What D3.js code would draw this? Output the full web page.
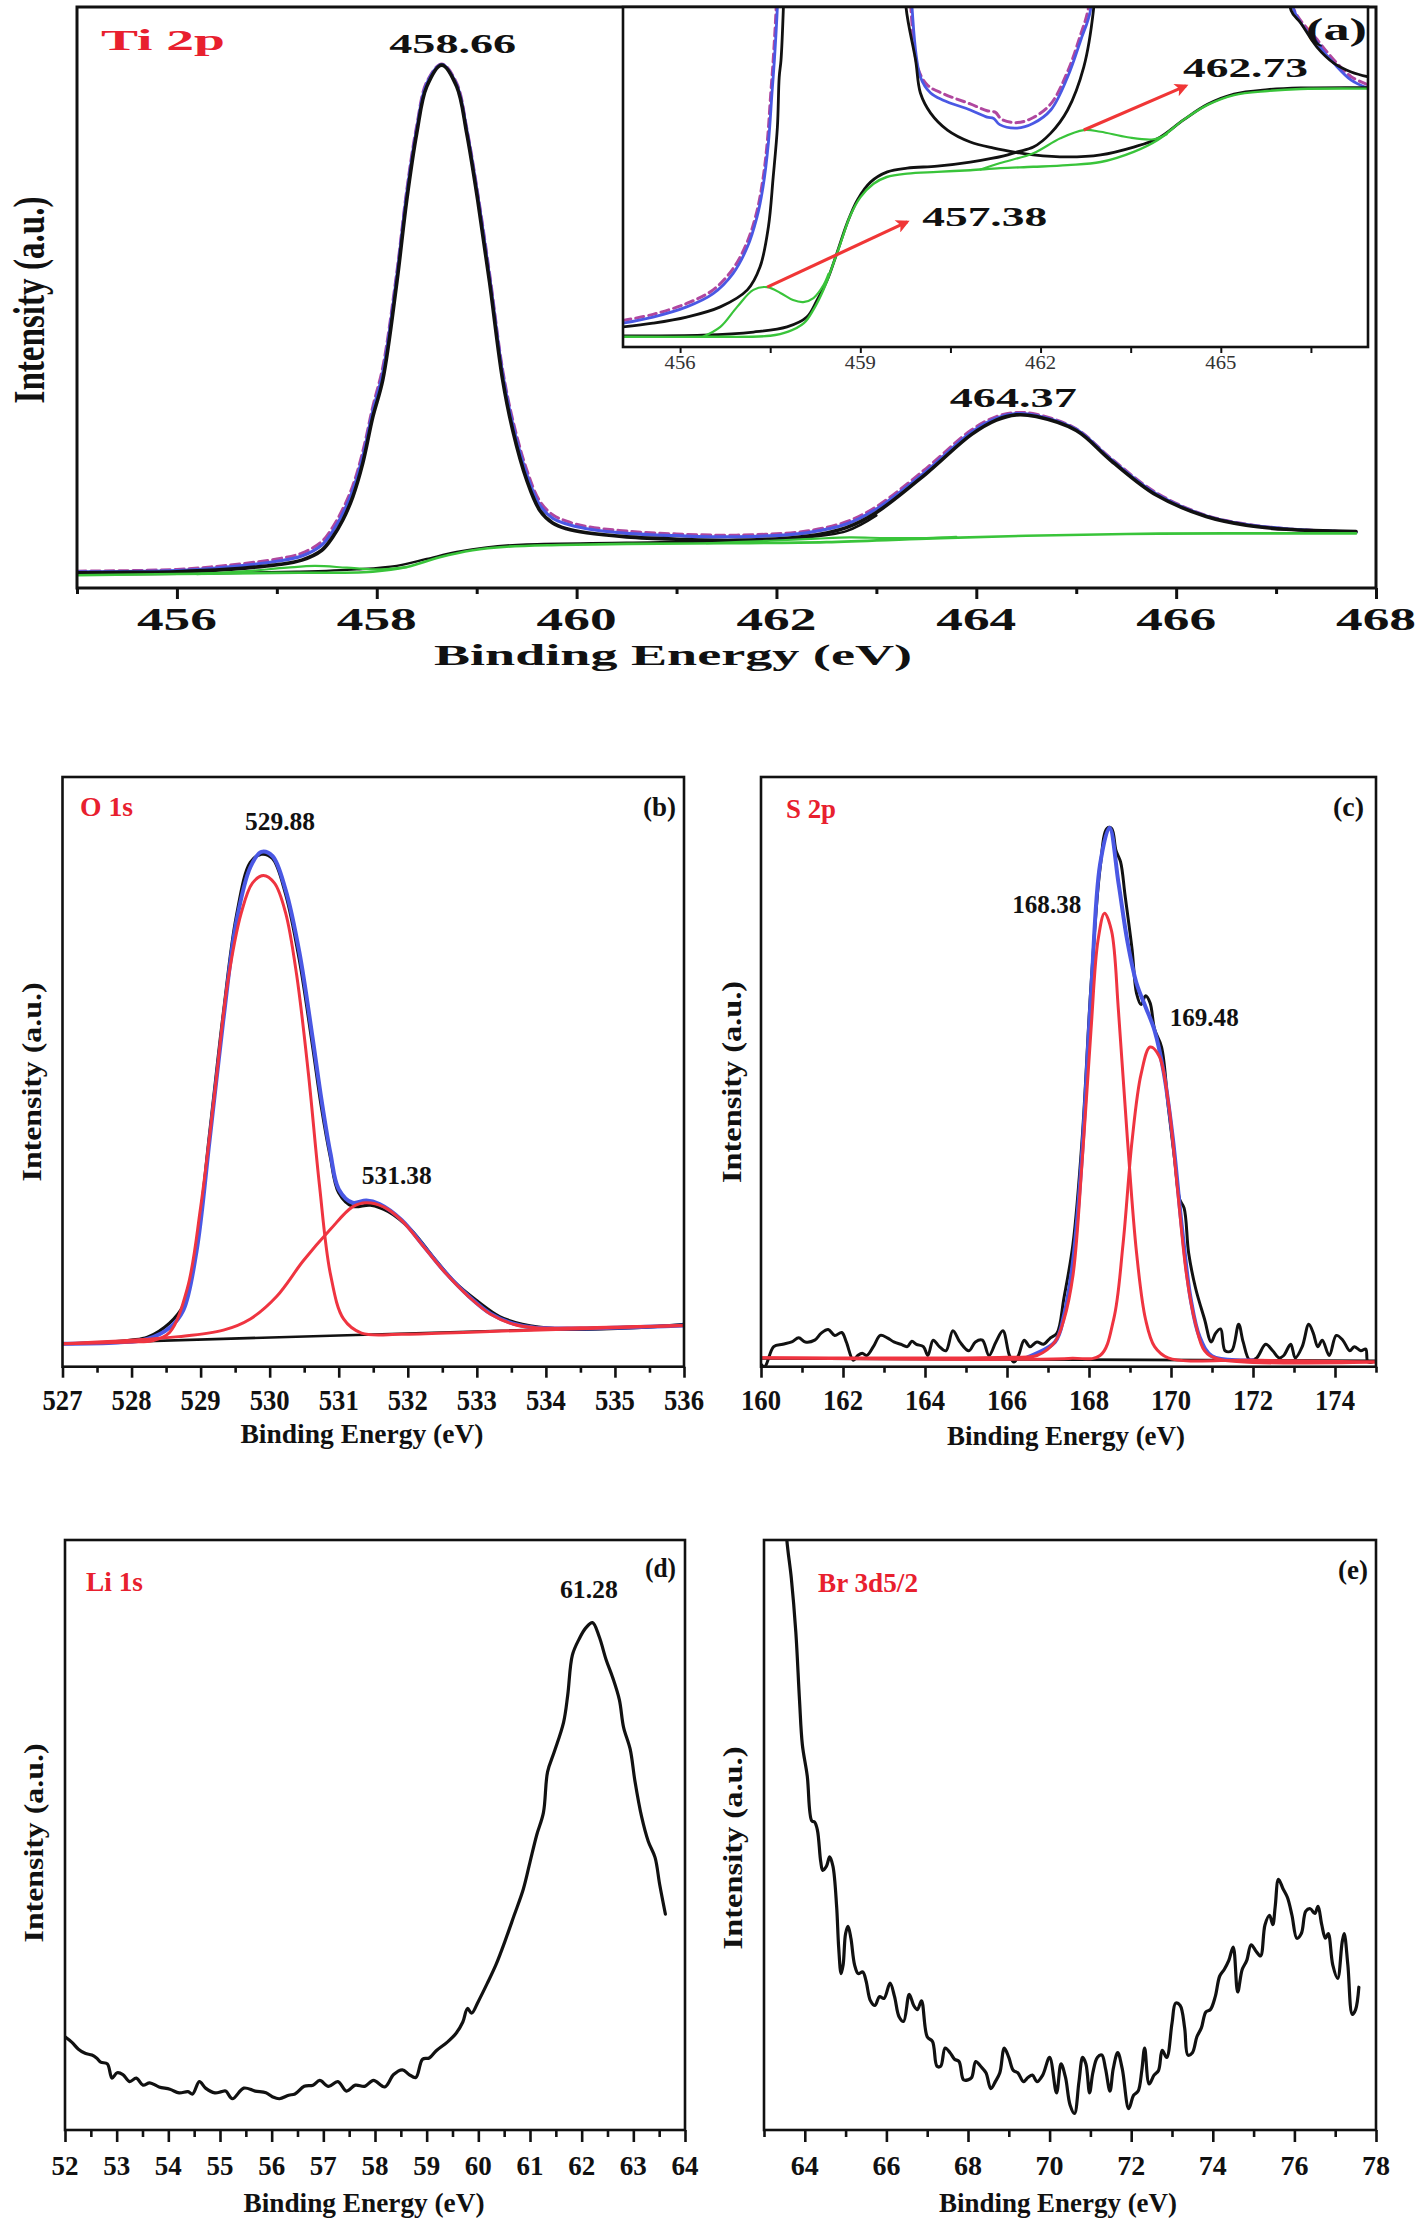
<!DOCTYPE html>
<html><head><meta charset="utf-8">
<script src="https://cdn.jsdelivr.net/npm/d3@7/dist/d3.min.js"></script>
<style>html,body{margin:0;padding:0;background:#fff}svg{display:block}</style>
</head><body>
<svg id="fig" width="1418" height="2227"></svg>
<script>
// ---------------- DATA (binding energy eV, relative intensity 0-100) ----------------
// Panel (a) Ti 2p main
const tiRaw = [[455,2.9],[456,3.2],[456.5,3.9],[457,5.0],[457.25,6.0],[457.45,8.0],[457.56,10.5],[457.66,13.6],[457.76,17.6],[457.86,23.5],[457.96,31.2],[458.06,38],[458.2,54.3],[458.3,68.5],[458.4,79.6],[458.5,87.1],[458.65,90.2],[458.8,86.9],[458.9,79.2],[459.01,68],[459.13,54],[459.26,37.5],[459.36,29],[459.5,20.4],[459.63,15],[459.76,12.6],[459.9,11.5],[460.1,10.6],[460.5,9.8],[461,9.3],[461.6,9.1],[462.3,9.8],[462.7,11.4],[463,14],[463.5,20.6],[463.95,27.2],[464.2,29.5],[464.4,30.2],[464.6,29.9],[465,27.4],[465.35,22.3],[465.8,16.4],[466.3,12.5],[466.7,11.0],[467.1,10.2],[467.8,9.6]];
const tiFit = [[455,2.8],[456,3.0],[456.5,3.6],[457,4.6],[457.25,5.5],[457.45,7.4],[457.56,9.8],[457.66,12.8],[457.76,16.8],[457.86,22.6],[457.96,30.4],[458.06,37],[458.2,53.5],[458.3,67.8],[458.4,79],[458.5,86.8],[458.65,90.1],[458.8,86.6],[458.9,78.8],[459.01,67.5],[459.13,53.3],[459.26,36.8],[459.36,28.2],[459.5,19.6],[459.63,14.3],[459.76,12.0],[459.9,11.0],[460.1,10.2],[460.5,9.4],[461,9.0],[461.6,8.8],[462.3,9.5],[462.7,11.0],[463,13.6],[463.5,20.1],[463.95,26.8],[464.2,29.2],[464.4,30.0],[464.6,29.7],[465,27.3],[465.35,22.1],[465.8,16.2],[466.3,12.4],[466.7,10.9],[467.1,10.2],[467.8,9.6]];
const tiEnvelope = [[455,2.6],[455.5,2.7],[456,2.8],[456.5,3.2],[457,4.0],[457.25,4.8],[457.45,6.5],[457.56,8.8],[457.66,11.7],[457.76,15.7],[457.86,21.5],[457.96,29.4],[458.06,35.8],[458.2,52.5],[458.3,66.8],[458.4,78.3],[458.5,86.3],[458.65,90.0],[458.8,86.3],[458.9,78.3],[459.01,66.8],[459.13,52.5],[459.26,35.8],[459.36,27.2],[459.5,18.6],[459.63,13.4],[459.76,11.2],[459.9,10.2],[460.1,9.5],[460.5,8.8],[461,8.4],[461.6,8.2],[462.3,8.9],[462.7,10.4],[463,13.0],[463.5,19.7],[463.95,26.4],[464.2,28.9],[464.4,29.8],[464.6,29.5],[465,27.1],[465.35,21.9],[465.8,16.0],[466.3,12.3],[466.7,10.8],[467.1,10.1],[467.8,9.7]];
const tiComp2Low = [[455,2.3],[456.3,2.5],[457.2,2.8],[457.8,3.2],[458.2,3.8],[458.5,5.0],[458.8,6.2],[459.1,7.0],[459.5,7.5],[460.5,7.8],[461.5,8.1],[462.2,8.6],[462.7,9.8],[463,12.5]];
const tiBackground = [[455,2.2],[456,2.4],[457,2.6],[457.96,2.8],[458.3,3.6],[458.63,5.3],[458.96,6.5],[459.3,7.1],[459.83,7.4],[460.5,7.6],[461.5,7.7],[462.5,7.9],[463.5,8.5],[464.5,9.0],[465.5,9.3],[466.5,9.4],[467.8,9.4]];
const tiTi3a = [[456.2,2.4],[456.7,2.9],[457.1,3.5],[457.38,3.8],[457.7,3.5],[458,3.2],[458.3,3.6]];
const tiTi3b = [[461.3,7.7],[461.9,8.1],[462.4,8.5],[462.73,8.7],[463.1,8.6],[463.5,8.6],[463.8,8.8]];
const tiTicks = [455,456,457,458,459,460,461,462,463,464,465,466,467,468];
const tiTickLabels = [456,458,460,462,464,466,468];
const tiPeaks = [{t:"458.66",x:458.76,y:92.1},{t:"464.37",x:464.37,y:31.2}];

// Panel (a) inset (magnified low-intensity region, 0-100 of inset height)
const inRawL = [[455.05,7.8],[455.55,9.6],[456.11,12.8],[456.55,16.8],[456.88,23],[457.12,31],[457.28,40],[457.38,49.5],[457.45,60],[457.51,74.7],[457.55,84.4],[457.6,100],[457.64,120]];
const inRawM = [[459.8,120],[459.84,100],[459.96,82],[460.12,77],[460.38,74.5],[460.83,71.5],[461.11,69.5],[461.25,69],[461.35,67],[461.61,66],[461.88,67.5],[462.17,71.5],[462.45,81],[462.65,91],[462.8,100],[462.88,120]];
const inRawR = [[466.12,120],[466.2,100],[466.6,90.5],[466.88,84.5],[467.17,79.5],[467.47,77]];
const inFitL = [[455.05,7.0],[455.55,8.8],[456.11,11.8],[456.55,15.7],[456.88,21.6],[457.12,29.4],[457.28,38.2],[457.38,47],[457.47,60],[457.53,74.7],[457.57,84.4],[457.62,100],[457.66,120]];
const inFitM = [[459.82,120],[459.86,100],[460,79.4],[460.17,74.7],[460.38,72.6],[460.83,69.7],[461.11,67.6],[461.22,67.2],[461.32,65.4],[461.61,64.4],[461.88,65.8],[462.17,69.7],[462.45,79.4],[462.67,90.3],[462.83,99],[462.9,120]];
const inFitR = [[466.15,120],[466.22,99],[466.6,89.4],[466.88,83.5],[467.17,78.5],[467.47,76]];
const inComp1L = [[455.05,5.9],[455.55,7.0],[456.11,8.8],[456.67,11.8],[457.12,16.8],[457.33,23.5],[457.47,35.3],[457.55,50],[457.62,64.7],[457.65,79.4],[457.68,84.4],[457.72,100],[457.75,120]];
const inComp1R = [[459.72,120],[459.76,100],[459.92,84.4],[460,74.7],[460.17,68.8],[460.45,63.8],[460.83,60.3],[461.22,58.5],[461.61,57.2],[461.88,56.5],[462.45,55.9],[463,56.5],[463.55,58.8],[463.95,61.3],[464.38,66.8],[464.78,71.4],[465.22,74.4],[465.78,75.7],[466.33,76.2],[467.47,76.3]];
const inComp2L = [[455.05,3.3],[456.38,3.5],[457.22,4.4],[457.78,5.9],[458.11,8.8],[458.28,13.8],[458.45,19.7],[458.61,27.6],[458.78,36.4],[458.95,43.2],[459.17,48.5],[459.45,51.5],[459.78,52.6],[460.28,53.2],[460.83,54.4],[461.39,56.2],[461.61,57.4],[461.88,58.8],[462.17,62.9],[462.45,69.7],[462.72,82.4],[462.88,99],[462.95,120]];
const inComp2R = [[466.1,120],[466.17,99],[466.33,95.3],[466.6,88.2],[466.88,83.5],[467.17,80.9],[467.47,79.4]];
const inBackground = [[455.05,3.0],[456.5,3.0],[457.5,3.3],[457.8,4.5],[458.06,7],[458.22,11],[458.39,17],[458.56,25],[458.67,30.5],[458.83,38.5],[459,44],[459.22,48],[459.44,50],[459.78,51],[460.28,51.5],[460.83,52],[461.33,52.6],[461.88,53],[462.45,53.5],[463,54.4],[463.55,57.4],[463.95,60.9],[464.38,66.8],[464.78,71.2],[465.22,74.1],[465.78,75.3],[466.33,75.9],[467.47,76]];
const inTi3a = [[456.38,3.0],[456.67,5.9],[456.95,11.8],[457.22,16.8],[457.45,17.6],[457.67,15.9],[457.88,13.8],[458.05,13.2],[458.22,14.4],[458.39,18.3],[458.47,21.5]];
const inTi3b = [[461,52.2],[461.33,54.1],[461.88,57],[462.33,61.4],[462.72,63.8],[463,63.3],[463.45,61.7],[463.88,61.1],[464.1,62.6]];
const inTicks = [456,457.5,459,460.5,462,463.5,465,466.5];
const inTickLabels = [456,459,462,465];
const inArrows = [{x0:457.45,y0:17.6,x1:459.78,y1:36.8,t:"457.38",tx:460.03,ty:35.6},
                  {x0:462.72,y0:63.8,x1:464.42,y1:76.8,t:"462.73",tx:464.37,ty:79.4}];

// Panel (b) O 1s
const oRaw = [[527,3.9],[527.6,4.1],[528,4.5],[528.23,5.0],[528.55,7.4],[528.75,10.4],[528.94,20.5],[529.13,39.5],[529.33,60],[529.52,76.5],[529.72,85.5],[529.88,86.9],[530.04,86.2],[530.23,80.2],[530.43,69],[530.62,54.5],[530.75,44],[530.88,35.5],[531,29.5],[531.2,27.2],[531.46,27.4],[531.72,26.3],[532.04,23.3],[532.36,18.7],[532.69,14.2],[533.01,11.1],[533.33,8.5],[533.66,7.2],[534.18,6.4],[534.82,6.4],[535.47,6.7],[536,7.2]];
const oFit = [[527,3.9],[527.8,4.1],[528.23,4.7],[528.55,6.6],[528.75,9.6],[528.94,19.5],[529.13,38.4],[529.33,58.9],[529.52,75.6],[529.72,84.7],[529.88,87.3],[530.04,86.6],[530.23,80.9],[530.43,70.3],[530.62,55.9],[530.75,45.3],[530.88,36.2],[531,30.1],[531.2,27.8],[531.4,28.2],[531.59,27.6],[531.91,24.9],[532.24,20.3],[532.56,15.8],[532.88,12],[533.2,9],[533.53,7.3],[533.85,6.6],[536,7.0]];
const oComp1 = [[527,3.9],[528,4.2],[528.3,4.4],[528.55,5.8],[528.81,13.4],[529,27],[529.2,46],[529.39,65],[529.59,77],[529.75,82],[529.91,83.3],[530.07,82],[530.23,77],[530.39,66.5],[530.56,49.8],[530.72,30.9],[530.88,15.7],[531.07,8.1],[531.33,5.7],[531.91,5.5],[533,5.9],[536,7.0]];
const oComp2 = [[527,3.9],[528.68,5.1],[529.33,6.2],[529.72,8.1],[530.1,11.9],[530.49,18],[530.88,23.3],[531.2,27.1],[531.4,27.8],[531.65,27.1],[531.91,24.8],[532.24,20.2],[532.56,15.7],[532.88,11.9],[533.2,8.9],[533.53,7.2],[533.85,6.6],[534.5,6.6],[535.3,6.8],[536,7.0]];
const oBase = [[527,3.9],[531,5.3],[536,7.0]];
const oTicks = [527,528,529,530,531,532,533,534,535,536];
const oPeaks = [{t:"529.88",x:530.15,y:91.0},{t:"531.38",x:531.84,y:31.0}];

// Panel (c) S 2p
const sRaw = [[160,0.4],[160.09,0],[160.31,3.4],[160.53,3.8],[160.75,4.2],[160.92,4.9],[161.08,4.2],[161.31,4.5],[161.47,5.7],[161.64,6.3],[161.8,5.3],[161.97,5.8],[162.08,4.2],[162.25,1.1],[162.36,1.9],[162.47,2.3],[162.58,1.9],[162.74,3.4],[162.91,5.3],[163.08,4.9],[163.24,4.2],[163.41,3.8],[163.57,3.4],[163.68,4.3],[163.79,3.8],[163.96,3.4],[164.07,1.9],[164.2,4.5],[164.35,3.4],[164.51,2.7],[164.68,6.1],[164.85,4.2],[165.07,2.7],[165.23,4.2],[165.4,4.5],[165.56,1.9],[165.73,4.2],[165.9,6.1],[166.06,1.9],[166.17,0.8],[166.28,1.9],[166.42,4.5],[166.56,3.4],[166.73,4.2],[166.89,3.8],[167.06,4.9],[167.22,5.7],[167.39,11.7],[167.61,20.8],[167.83,38.3],[168.05,64.8],[168.27,84.5],[168.44,91.3],[168.55,91.3],[168.66,87.5],[168.77,85.6],[168.88,79.9],[169.05,70.8],[169.16,63.3],[169.27,61.4],[169.38,62.9],[169.49,61.7],[169.6,57.2],[169.77,54.2],[169.93,44.3],[170.1,34.5],[170.21,28.4],[170.32,26.9],[170.43,19.3],[170.6,13.3],[170.82,8.0],[170.98,4.2],[171.09,5.7],[171.21,6.4],[171.32,2.7],[171.48,2.7],[171.65,7.2],[171.76,4.2],[171.92,1.1],[172.09,1.5],[172.31,3.8],[172.48,2.7],[172.64,1.5],[172.75,1.9],[172.92,3.8],[173.03,1.5],[173.2,3.4],[173.36,7.2],[173.47,5.7],[173.58,3.4],[173.69,4.5],[173.86,1.9],[174.03,5.3],[174.19,4.5],[174.36,2.7],[174.47,3.4],[174.63,2.7],[174.75,3.0],[174.8,0.8],[174.91,0.8]];
const sFit = [[166.5,1.6],[167.17,4.2],[167.39,8.7],[167.61,17.8],[167.83,36],[168.05,63.3],[168.27,85.2],[168.5,91.4],[168.72,82],[168.94,72],[169.16,65],[169.38,61],[169.6,57],[169.82,50],[170.04,39],[170.26,24],[170.48,11.5],[170.7,5],[171,1.8],[172,1.1]];
const sComp1 = [[160,1.5],[166,1.6],[166.73,1.9],[167.17,4.2],[167.39,8.0],[167.61,15.5],[167.83,34.5],[168.05,57.2],[168.22,72.3],[168.38,76.9],[168.55,73.9],[168.72,60.2],[168.94,38.3],[169.16,19.3],[169.38,8.0],[169.6,3.4],[169.93,1.5],[172,1.1],[175,0.8]];
const sComp2 = [[160,1.5],[167.5,1.4],[168.27,1.9],[168.6,8.0],[168.83,20.8],[169.05,38.3],[169.27,49.6],[169.49,54.2],[169.71,52.7],[169.93,45.1],[170.15,30.7],[170.38,15.5],[170.6,7.2],[170.82,2.7],[171.15,1.3],[175,0.8]];
const sBase = [[160,1.4],[175,1.0]];
const sTicks = [160,161,162,163,164,165,166,167,168,169,170,171,172,173,174,175];
const sTickLabels = [160,162,164,166,168,170,172,174];
const sPeaks = [{t:"168.38",x:166.97,y:77.0},{t:"169.48",x:170.81,y:57.8}];

// Panel (d) Li 1s
const liRaw = [[52,15.8],[52.13,14.9],[52.26,13.7],[52.39,13.0],[52.52,12.7],[52.61,12.2],[52.69,11.5],[52.82,11.2],[52.91,8.8],[53.01,9.7],[53.12,9.4],[53.25,8.2],[53.38,8.8],[53.51,7.6],[53.64,8.0],[53.82,7.3],[54.03,6.9],[54.21,6.3],[54.38,6.5],[54.47,6.1],[54.6,8.2],[54.72,7.1],[54.9,6.3],[55.03,6.5],[55.11,6.6],[55.24,5.3],[55.46,7.1],[55.68,6.6],[55.89,6.3],[56.02,5.6],[56.15,5.3],[56.33,5.9],[56.45,6.1],[56.63,7.4],[56.8,7.6],[56.93,8.4],[57.1,7.4],[57.28,8.2],[57.45,6.6],[57.62,7.6],[57.8,7.4],[57.97,8.4],[58.19,7.3],[58.36,9.4],[58.53,10.2],[58.66,9.4],[58.79,8.9],[58.92,12.0],[59.05,12.2],[59.18,13.4],[59.4,14.9],[59.57,16.4],[59.7,18.3],[59.79,20.6],[59.87,19.8],[60,21.8],[60.17,24.8],[60.35,28.2],[60.52,32.1],[60.69,36.3],[60.87,40.8],[61,45.4],[61.13,50.0],[61.26,53.8],[61.34,60.7],[61.47,64.1],[61.65,69.1],[61.73,73.7],[61.82,80.5],[61.95,83.2],[62.08,85.1],[62.21,86.0],[62.34,83.6],[62.47,79.8],[62.6,76.7],[62.73,72.9],[62.81,68.3],[62.94,64.5],[63.03,59.2],[63.16,53.1],[63.29,48.9],[63.42,46.2],[63.51,41.6],[63.62,36.6]];
const liTicks = [52,52.5,53,53.5,54,54.5,55,55.5,56,56.5,57,57.5,58,58.5,59,59.5,60,60.5,61,61.5,62,62.5,63,63.5,64];
const liTickLabels = [52,53,54,55,56,57,58,59,60,61,62,63,64];
const liPeaks = [{t:"61.28",x:62.14,y:90.2}];

// Panel (e) Br 3d5/2
const brRaw = [[63.5,108],[63.56,100],[63.67,93.5],[63.78,84.4],[63.87,72.9],[63.94,65.3],[64.06,60.0],[64.17,52.4],[64.24,52.2],[64.31,50.8],[64.39,45.5],[64.44,44.0],[64.53,44.7],[64.61,46.3],[64.69,44.7],[64.78,37.9],[64.83,31.0],[64.89,26.5],[64.94,28.0],[65,33.3],[65.06,34.5],[65.13,32.5],[65.22,28.0],[65.31,26.5],[65.42,26.8],[65.5,25.3],[65.61,21.9],[65.72,21.1],[65.83,22.6],[65.94,22.3],[66.09,24.9],[66.2,22.6],[66.31,19.2],[66.42,18.4],[66.56,23.0],[66.67,21.1],[66.76,20.4],[66.86,21.9],[67,15.8],[67.13,15.0],[67.24,10.8],[67.33,10.8],[67.44,13.9],[67.56,13.1],[67.67,12.0],[67.78,11.6],[67.89,8.5],[68,8.5],[68.09,8.9],[68.19,11.6],[68.31,10.8],[68.44,9.7],[68.56,7.0],[68.67,8.2],[68.78,9.7],[68.89,13.9],[69,12.3],[69.11,10.1],[69.22,9.7],[69.36,8.2],[69.47,8.9],[69.58,9.3],[69.69,8.2],[69.83,9.3],[70,12.3],[70.17,6.3],[70.28,11.2],[70.39,8.9],[70.5,4.3],[70.61,2.8],[70.72,8.2],[70.81,12.3],[70.89,11.2],[70.98,6.3],[71.06,9.7],[71.17,12.3],[71.28,12.7],[71.37,10.4],[71.48,6.6],[71.56,10.4],[71.67,13.1],[71.78,10.4],[71.94,3.6],[72.06,5.9],[72.17,6.6],[72.26,10.1],[72.33,13.9],[72.44,7.8],[72.56,9.3],[72.67,10.1],[72.76,13.5],[72.87,12.3],[73,18.1],[73.09,21.5],[73.2,21.1],[73.31,17.3],[73.39,12.7],[73.5,13.1],[73.61,15.8],[73.72,17.3],[73.83,20.0],[73.94,20.4],[74.06,22.6],[74.17,26.1],[74.28,27.2],[74.39,28.7],[74.5,31.0],[74.61,23.4],[74.72,27.2],[74.83,28.7],[74.94,31.4],[75.06,30.3],[75.17,29.5],[75.28,34.8],[75.39,36.4],[75.47,34.8],[75.53,37.9],[75.61,42.5],[75.72,40.9],[75.83,39.4],[75.94,36.4],[76.06,32.5],[76.17,33.3],[76.28,37.1],[76.39,37.5],[76.5,36.7],[76.58,37.9],[76.67,34.8],[76.76,32.5],[76.83,33.3],[76.94,28.0],[77.06,25.7],[77.17,31.8],[77.22,33.3],[77.31,28.0],[77.42,19.6],[77.5,20.4],[77.58,24.2]];
const brTicks = [63,64,65,66,67,68,69,70,71,72,73,74,75,76,77,78];
const brTickLabels = [64,66,68,70,72,74,76,78];

// ---------------- DRAWING ----------------
const FONT = "'Liberation Serif','Times New Roman',Times,serif";
const svg = d3.select("#fig");
const C = {black:"#111", blue:"#4a58e4", purple:"#b0479f", green:"#39c43a", red:"#ef3440", redTxt:"#e8202e", arrow:"#f03636"};

function txt(g, o){
  const t = g.append("text").attr("x",o.x).attr("y",o.y)
    .attr("font-family",FONT).attr("font-weight",o.weight||"bold")
    .attr("font-size",o.size).attr("fill",o.color||"#111")
    .attr("text-anchor",o.anchor||"start").text(o.text);
  if(o.len){ t.attr("textLength",o.len).attr("lengthAdjust","spacingAndGlyphs"); }
  if(o.rotate){ t.attr("transform",`rotate(${o.rotate},${o.x},${o.y})`); }
  return t;
}
let clipId = 0;
function makePanel(p){
  const x = d3.scaleLinear().domain(p.xd).range([p.l,p.r]);
  const y = d3.scaleLinear().domain([0,100]).range([p.b,p.t]);
  const g = svg.append("g");
  if(p.fill) g.append("rect").attr("x",p.l).attr("y",p.t).attr("width",p.r-p.l).attr("height",p.b-p.t).attr("fill","#fff");
  const id = "clip"+(clipId++);
  svg.append("defs").append("clipPath").attr("id",id).append("rect")
    .attr("x",p.l).attr("y",p.t).attr("width",p.r-p.l).attr("height",p.b-p.t);
  const plot = g.append("g").attr("clip-path",`url(#${id})`);
  const major = new Set(p.major);
  const ax = g.append("g").attr("transform",`translate(0,${p.b})`)
    .call(d3.axisBottom(x).tickValues(p.ticks).tickFormat("").tickSizeOuter(0).tickSizeInner(0));
  ax.select(".domain").remove();
  ax.selectAll(".tick line").attr("y2",d=>major.has(d)?p.tmaj:p.tmin)
    .attr("stroke","#111").attr("stroke-width",p.tw||3);
  if(p.lblSize) p.major.forEach(v=>txt(g,{x:x(v),y:p.b+p.lblDy,text:String(v),size:p.lblSize,anchor:"middle",len:p.lblLen}));
  return {x,y,g,plot,frame:()=>g.append("rect").attr("x",p.l).attr("y",p.t).attr("width",p.r-p.l).attr("height",p.b-p.t)
      .attr("fill","none").attr("stroke","#111").attr("stroke-width",p.fw||3)};
}
function curve(P, data, color, w, dash){
  const line = d3.line().x(d=>P.x(d[0])).y(d=>P.y(d[1])).curve(d3.curveCatmullRom.alpha(0.5));
  const path = P.plot.append("path").datum(data).attr("d",line).attr("fill","none")
    .attr("stroke",color).attr("stroke-width",w).attr("stroke-linejoin","round").attr("stroke-linecap","round");
  if(dash) path.attr("stroke-dasharray",dash);
  return path;
}

// ===== Panel (a) main =====
const A = makePanel({xd:[455,468],l:77,r:1376,t:7,b:588,ticks:tiTicks,major:tiTickLabels,tmaj:11,tmin:6,
  lblDy:42,lblSize:31,lblLen:80});
curve(A, tiRaw, C.purple, 3, "9,5");
curve(A, tiFit, C.blue, 3.2);
curve(A, tiEnvelope, C.black, 3.6);
curve(A, tiComp2Low, C.black, 2.4);
curve(A, tiBackground, C.green, 2.6);
curve(A, tiTi3a, C.green, 2.2);
curve(A, tiTi3b, C.green, 2.2);
A.frame();
tiPeaks.forEach(d=>txt(A.g,{x:A.x(d.x),y:A.y(d.y),text:d.t,size:27,anchor:"middle",len:127}));
txt(A.g,{x:101,y:50,text:"Ti 2p",size:30,color:C.redTxt,len:124});
txt(A.g,{x:673,y:665,text:"Binding Energy (eV)",size:29,anchor:"middle",len:478});
txt(A.g,{x:44,y:300,text:"Intensity (a.u.)",size:44,anchor:"middle",len:207,rotate:-90});

// ===== Inset =====
const I = makePanel({xd:[455.05,467.45],l:623,r:1368,t:7,b:347,ticks:inTicks,major:inTicks,tmaj:6,tmin:6,tw:2,
  lblDy:0,lblSize:0,lblLen:0, fill:true, fw:2.6});
inTickLabels.forEach(v=>txt(I.g,{x:I.x(v),y:369,text:String(v),size:19,anchor:"middle",len:31,weight:"normal",color:"#333"}));
[inRawL,inRawM,inRawR].forEach(d=>curve(I,d,C.purple,3,"8,5"));
[inFitL,inFitM,inFitR].forEach(d=>curve(I,d,C.blue,2.8));
[inComp1L,inComp1R,inComp2L,inComp2R].forEach(d=>curve(I,d,C.black,2.8));
curve(I,inBackground,C.green,2.4);
curve(I,inTi3a,C.green,2.2);
curve(I,inTi3b,C.green,2.2);
I.frame();
svg.append("defs").html(`<marker id="ah" viewBox="0 0 10 10" refX="8" refY="5" markerWidth="5" markerHeight="4.2" orient="auto-start-reverse" markerUnits="strokeWidth"><path d="M0,0 L10,5 L0,10 L2.5,5 z" fill="${C.arrow}"/></marker>`);
inArrows.forEach(a=>{
  I.g.append("line").attr("x1",I.x(a.x0)).attr("y1",I.y(a.y0)).attr("x2",I.x(a.x1)).attr("y2",I.y(a.y1))
    .attr("stroke",C.arrow).attr("stroke-width",3.2).attr("marker-end","url(#ah)");
  txt(I.g,{x:I.x(a.tx),y:I.y(a.ty),text:a.t,size:27,len:125});
});
txt(I.g,{x:1367,y:40,text:"(a)",size:32,anchor:"end",len:61});

// ===== Panel (b) =====
const B = makePanel({xd:[527,536],l:62.5,r:684,t:777,b:1366.7,ticks:d3.range(527,536.01,0.5),major:oTicks,tmaj:11,tmin:6,
  lblDy:43,lblSize:30,lblLen:40,tw:2.6});
curve(B,oRaw,C.black,3.2);
curve(B,oBase,C.black,2.6);
curve(B,oFit,C.blue,4);
curve(B,oComp1,C.red,3);
curve(B,oComp2,C.red,3);
B.frame().attr("stroke-width",2.6);
oPeaks.forEach(d=>txt(B.g,{x:B.x(d.x),y:B.y(d.y),text:d.t,size:26,anchor:"middle",len:70}));
txt(B.g,{x:80,y:816,text:"O 1s",size:27,color:C.redTxt,len:53});
txt(B.g,{x:676,y:816,text:"(b)",size:27,anchor:"end",len:33});
txt(B.g,{x:362,y:1443,text:"Binding Energy (eV)",size:28,anchor:"middle",len:243});
txt(B.g,{x:41,y:1082,text:"Intensity (a.u.)",size:28,anchor:"middle",len:199,rotate:-90});

// ===== Panel (c) =====
const Cc = makePanel({xd:[160,175],l:761,r:1376,t:777,b:1366.7,ticks:sTicks,major:sTickLabels,tmaj:11,tmin:6,
  lblDy:43,lblSize:30,lblLen:40,tw:2.6});
curve(Cc,sRaw,C.black,3);
curve(Cc,sBase,C.black,2.6);
curve(Cc,sFit,C.blue,4);
curve(Cc,sComp1,C.red,3);
curve(Cc,sComp2,C.red,3);
Cc.frame().attr("stroke-width",2.6);
sPeaks.forEach(d=>txt(Cc.g,{x:Cc.x(d.x),y:Cc.y(d.y),text:d.t,size:26,anchor:"middle",len:69}));
txt(Cc.g,{x:786,y:818,text:"S 2p",size:27,color:C.redTxt,len:50});
txt(Cc.g,{x:1364,y:816,text:"(c)",size:27,anchor:"end",len:31});
txt(Cc.g,{x:1066,y:1445,text:"Binding Energy (eV)",size:28,anchor:"middle",len:238});
txt(Cc.g,{x:741,y:1082,text:"Intensity (a.u.)",size:28,anchor:"middle",len:202,rotate:-90});

// ===== Panel (d) =====
const D = makePanel({xd:[52,64],l:65,r:685,t:1540,b:2130,ticks:liTicks,major:liTickLabels,tmaj:12,tmin:7,
  lblDy:45,lblSize:28,lblLen:27,tw:2.6});
curve(D,liRaw,C.black,3.2);
D.frame().attr("stroke-width",2.6);
liPeaks.forEach(d=>txt(D.g,{x:D.x(d.x),y:D.y(d.y),text:d.t,size:26,anchor:"middle",len:58}));
txt(D.g,{x:86,y:1591,text:"Li 1s",size:27,color:C.redTxt,len:57});
txt(D.g,{x:676,y:1577,text:"(d)",size:27,anchor:"end",len:31});
txt(D.g,{x:364,y:2212,text:"Binding Energy (eV)",size:28,anchor:"middle",len:241});
txt(D.g,{x:43,y:1843,text:"Intensity (a.u.)",size:28,anchor:"middle",len:199,rotate:-90});

// ===== Panel (e) =====
const E = makePanel({xd:[63,78],l:764,r:1376,t:1540,b:2130,ticks:brTicks,major:brTickLabels,tmaj:12,tmin:7,
  lblDy:45,lblSize:28,lblLen:28,tw:2.6});
curve(E,brRaw,C.black,3.2);
E.frame().attr("stroke-width",2.6);
txt(E.g,{x:818,y:1592,text:"Br 3d5/2",size:27,color:C.redTxt,len:100});
txt(E.g,{x:1368,y:1579,text:"(e)",size:27,anchor:"end",len:30});
txt(E.g,{x:1058,y:2212,text:"Binding Energy (eV)",size:28,anchor:"middle",len:238});
txt(E.g,{x:742,y:1848,text:"Intensity (a.u.)",size:28,anchor:"middle",len:203,rotate:-90});
</script>
</body></html>
